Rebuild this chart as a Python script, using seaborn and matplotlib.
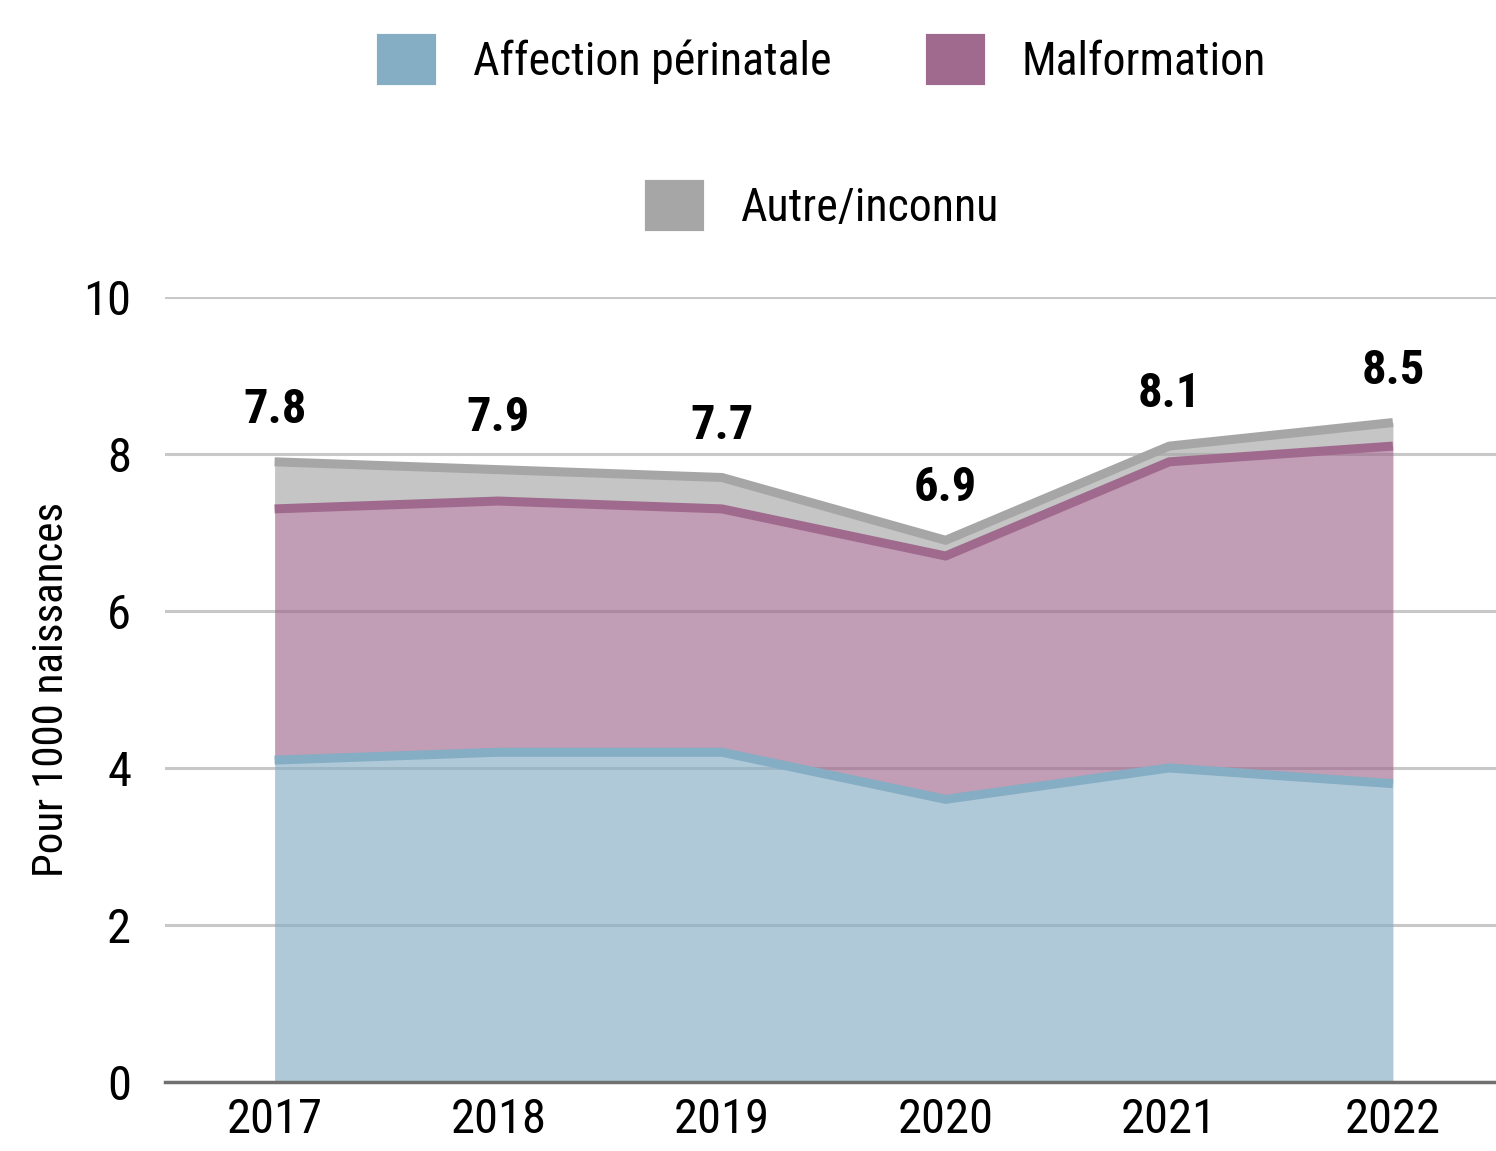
import matplotlib
matplotlib.use("Agg")
import matplotlib.pyplot as plt
import seaborn as sns
import numpy as np
import pandas as pd
from matplotlib.patches import Patch

# values per year (Pour 1000 naissances)
years = [2017, 2018, 2019, 2020, 2021, 2022]
perinatale = [4.1, 4.2, 4.2, 3.6, 4.0, 3.8]
malformation = [3.2, 3.2, 3.1, 3.1, 3.9, 4.3]
autre = [0.6, 0.4, 0.4, 0.2, 0.2, 0.3]
total_labels = ["7.8", "7.9", "7.7", "6.9", "8.1", "8.5"]

series_names = ["Affection périnatale", "Malformation", "Autre/inconnu"]
colors = ["#85adc4", "#a06a8e", "#a6a6a6"]

sns.set_theme(style="whitegrid")
plt.rcParams['font.family'] = ['Roboto Condensed', 'DejaVu Sans Condensed',
                               'Liberation Sans Narrow', 'Roboto']
plt.rcParams['font.stretch'] = 'condensed'
plt.rcParams['text.color'] = 'black'
plt.rcParams['axes.labelcolor'] = 'black'
plt.rcParams['xtick.color'] = 'black'
plt.rcParams['ytick.color'] = 'black'

fig = plt.figure(figsize=(14.96, 11.51), dpi=100)
ax = fig.add_axes([0.110, 0.060, 0.890, 0.682])

stack = np.vstack([perinatale, malformation, autre])
cum = np.cumsum(stack, axis=0)
ax.stackplot(years, stack, colors=colors, alpha=0.65, linewidth=0, zorder=2)

df = pd.DataFrame({
    "year": np.tile(years, 3),
    "value": cum.ravel(),
    "serie": np.repeat(series_names, len(years)),
})
sns.lineplot(data=df, x="year", y="value", hue="serie", palette=colors,
             linewidth=6.5, legend=False, ax=ax, zorder=3, solid_capstyle="butt")

# total labels above the stack
for x, tot, lab in zip(years, cum[-1], total_labels):
    ax.text(x, tot + 0.66, lab, ha="center", va="center", fontsize=35,
            fontweight="bold")

ax.set_xlim(2016.508, 2022.461)
ax.set_ylim(0, 10)
ax.set_yticks(range(0, 11, 2))
ax.set_xticks(years)
ax.set_xlabel("")
ax.set_ylabel("Pour 1000 naissances", fontsize=31, labelpad=8)
ax.tick_params(axis="both", labelsize=35, length=0)
ax.tick_params(axis="y", pad=24)
ax.tick_params(axis="x", pad=11)
ax.grid(axis="y", color="#c8c8c8", linewidth=2.2)
ax.grid(axis="x", visible=False)
ax.set_axisbelow(True)
for s in ["left", "right", "top"]:
    ax.spines[s].set_visible(False)
ax.spines["bottom"].set_color("#707070")
ax.spines["bottom"].set_linewidth(2.5)
ax.spines["bottom"].set_zorder(5)

handles = [Patch(facecolor=c, edgecolor=c, linewidth=3, joinstyle="round")
           for c in colors]
leg_kw = dict(loc="center", frameon=False, fontsize=33, handlelength=1.2,
              handleheight=1.2, handletextpad=0.85)
fig.legend(handles[:2], series_names[:2], ncol=2,
           bbox_to_anchor=(0.55, 1 - 60 / 1151), columnspacing=2.1, **leg_kw)
fig.legend(handles[2:], series_names[2:],
           bbox_to_anchor=(0.55, 1 - 206 / 1151), **leg_kw)

fig.savefig("out.png", dpi=100)
